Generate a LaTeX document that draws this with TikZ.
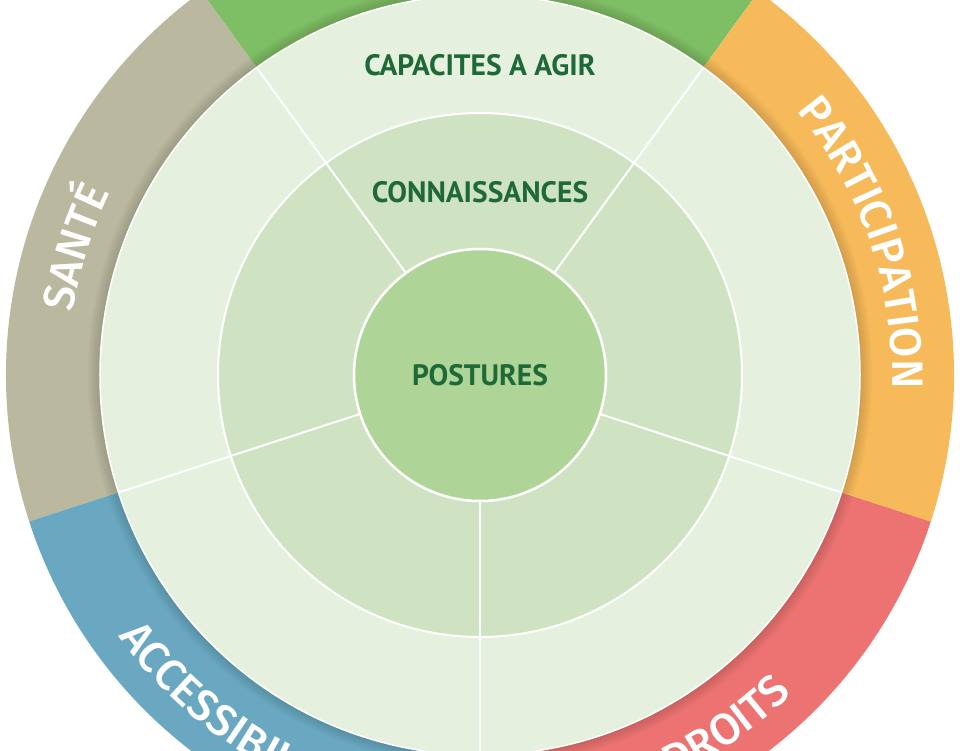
\documentclass[tikz,border=0pt]{standalone}
\usepackage{fontspec}
\newfontfamily\ringfont{Fira Sans Medium}
\newfontfamily\levelfont{PT Sans}
\usetikzlibrary{decorations.text}
\definecolor{agirgreen}{RGB}{126,190,101}
\definecolor{santegrey}{RGB}{186,184,158}
\definecolor{accblue}{RGB}{106,168,194}
\definecolor{droitred}{RGB}{236,115,113}
\definecolor{partorange}{RGB}{246,186,90}
\definecolor{outerzone}{RGB}{229,240,223}
\definecolor{midzone}{RGB}{207,227,194}
\definecolor{corezone}{RGB}{175,212,151}
\definecolor{textgreen}{RGB}{30,105,55}
\begin{document}
\begin{tikzpicture}[x=1pt,y=1pt,
    level/.style={font=\levelfont\bfseries\fontsize{29.5}{34}\selectfont, text=textgreen},
    divider/.style={white, line width=2},
    ringtext/.style={decorate, decoration={text along path, text align=center, text color=white,
        text={|\ringfont\fontsize{44}{52}\selectfont|#1}}}]
   \useasboundingbox (-480,-375) rectangle (480,375);
   \begin{scope}
   \clip (-480,-375) rectangle (480,375);
   \foreach \a/\col in {54/agirgreen,126/santegrey,198/accblue,270/droitred,342/partorange}
      \fill[\col] (0,0) -- (\a:474) arc[start angle=\a, end angle=\a+72, radius=474] -- cycle;
   \foreach \w in {4,8,...,24}
      \draw[black, opacity=0.025, line width=\w pt] (0,0) circle[radius=380];
   \fill[outerzone] (0,0) circle[radius=380];
   \draw[white, line width=1.5] (0,0) circle[radius=380];
   \fill[midzone] (0,0) circle[radius=262];
   \draw[white, line width=2] (0,0) circle[radius=262];
   \foreach \a in {54,126,198,270,342}
      \draw[divider] (\a:126) -- (\a:380);
   \fill[corezone] (0,0) circle[radius=126];
   \draw[white, line width=2.5] (0,0) circle[radius=126];
   \node[level] (capa) at (0,310) {CAPACITES A AGIR};
   \node[level] (conn) at (0,183) {CONNAISSANCES};
   \node[level] (post) at (0,0) {POSTURES};
   \path[ringtext=PARTICIPATION] (59:412) arc[start angle=59, end angle=-21, radius=412];
   \path[ringtext=SANTÉ] (202.5:412) arc[start angle=202.5, end angle=122.5, radius=412];
   \path[ringtext=DROITS] (-95:446) arc[start angle=-95, end angle=-15, radius=446];
   \path[ringtext=ACCESSIBILITÉ] (194:446) arc[start angle=194, end angle=274, radius=446];
   \end{scope}
\end{tikzpicture}
\end{document}
